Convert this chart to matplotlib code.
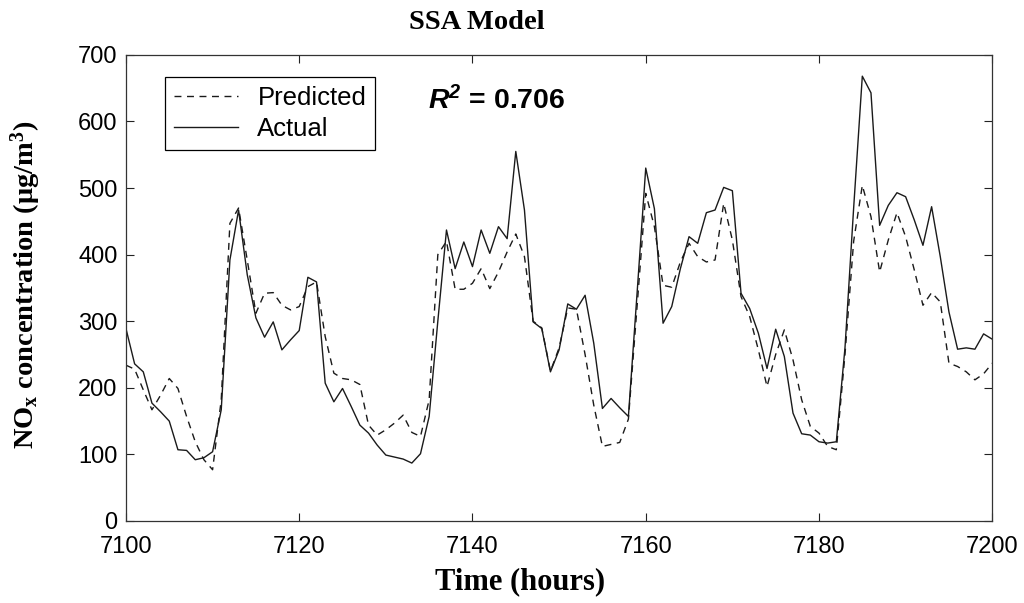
import numpy as np
import matplotlib
matplotlib.use("Agg")
import matplotlib.pyplot as plt

# Hourly NOx concentrations (ug/m3), hours 7100..7200
hours = list(range(7100, 7201))

actual = [
    289, 236, 224, 177, 164, 150, 107, 106, 92, 95,
    104, 167, 392, 467, 370, 305, 276, 299, 257, 272,
    286, 366, 359, 207, 179, 199, 172, 144, 132, 114,
    99, 96, 93, 87, 101, 157, 300, 437, 379, 419,
    382, 437, 402, 442, 424, 555, 467, 299, 289, 224,
    257, 326, 318, 339, 267, 169, 184, 170, 157, 342,
    530, 469, 297, 322, 379, 427, 417, 463, 467, 501,
    496, 342, 319, 282, 229, 288, 247, 162, 131, 129,
    119, 117, 119, 260, 470, 668, 643, 444, 474, 493,
    487, 452, 414, 472, 397, 314, 258, 260, 258, 281,
    273,
]

predicted = [
    234, 228, 197, 167, 189, 214, 199, 157, 119, 92,
    77, 182, 447, 470, 392, 312, 342, 343, 324, 317,
    322, 352, 359, 277, 222, 214, 212, 205, 144, 129,
    137, 147, 159, 133, 127, 182, 400, 420, 348, 348,
    357, 379, 349, 374, 404, 431, 397, 300, 290, 225,
    260, 320, 318, 250, 174, 112, 115, 118, 153, 322,
    492, 442, 354, 351, 389, 417, 397, 389, 392, 477,
    422, 337, 307, 257, 202, 250, 287, 242, 182, 142,
    132, 112, 107, 250, 420, 504, 457, 374, 422, 463,
    427, 377, 324, 343, 329, 237, 232, 224, 212, 221,
    237,
]

x_ticks = [7100, 7120, 7140, 7160, 7180, 7200]
y_ticks = [0, 100, 200, 300, 400, 500, 600, 700]
r_squared = 0.706

plt.rcParams["mathtext.fontset"] = "custom"
plt.rcParams["mathtext.rm"] = "Liberation Serif:bold"
plt.rcParams["mathtext.bf"] = "Liberation Serif:bold"
plt.rcParams["mathtext.it"] = "Liberation Serif:italic:bold"
plt.rcParams["mathtext.bfit"] = "Liberation Sans:italic:bold"

fig = plt.figure(figsize=(10.24, 6.03), dpi=100)
ax = fig.add_axes([0.123, 0.136, 0.846, 0.773])

line_color = "#1a1a1a"
ax.plot(hours, predicted, linestyle=(0, (5, 4)), color=line_color,
        linewidth=1.0, label="Predicted")
ax.plot(hours, actual, linestyle="-", color=line_color,
        linewidth=1.0, label="Actual")

ax.set_xlim(7100, 7200)
ax.set_ylim(0, 700)
ax.set_xticks(x_ticks)
ax.set_yticks(y_ticks)

sans = "Liberation Sans"
for lbl in ax.get_xticklabels() + ax.get_yticklabels():
    lbl.set_fontfamily(sans)
    lbl.set_fontsize(17)

ax.tick_params(direction="in", length=6, width=0.8, top=True, right=True,
               colors="#222222", labelcolor="black")
ax.tick_params(axis="x", pad=11)
ax.tick_params(axis="y", pad=6)
for sp in ax.spines.values():
    sp.set_linewidth(0.9)
    sp.set_color("#333333")

leg = ax.legend(loc="upper left", bbox_to_anchor=(0.045, 0.953),
                borderaxespad=0, fancybox=False, framealpha=1,
                edgecolor="black", handlelength=2.5, handletextpad=0.75,
                borderpad=0.35, labelspacing=0.3,
                prop={"family": sans, "size": 18.5})
leg.get_frame().set_linewidth(0.9)

ax.text(7134.9, 631, r"$\mathbfit{R^2}$ = %.3f" % r_squared,
        fontfamily=sans, fontweight="bold", fontsize=20.5,
        ha="left", va="center")

serif = "Liberation Serif"
fig.text(0.466, 0.962, "SSA Model", fontfamily=serif, fontweight="bold",
         fontsize=20.5, ha="center", va="center")
fig.text(0.508, 0.036, "Time (hours)", fontfamily=serif, fontweight="bold",
         fontsize=22, ha="center", va="center")
fig.text(0.025, 0.527, r"NO$_\mathbf{x}$ concentration (μg/m$^\mathbf{3}$)",
         fontfamily=serif, fontweight="bold", fontsize=20.5,
         rotation=90, ha="center", va="center")

fig.savefig("out.png", dpi=100, facecolor="white")
